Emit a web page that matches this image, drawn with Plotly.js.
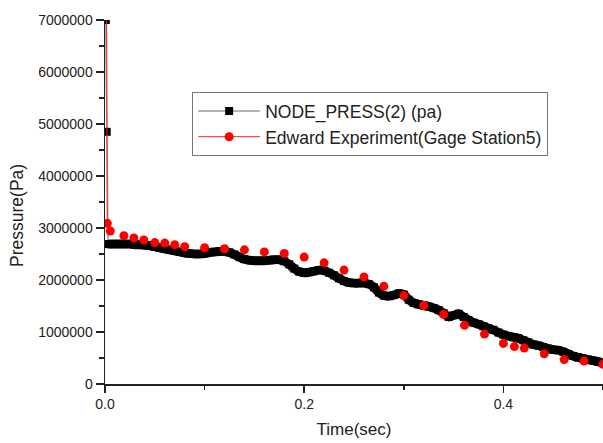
<!DOCTYPE html>
<html>
<head>
<meta charset="utf-8">
<script src="https://cdn.plot.ly/plotly-3.0.1.min.js"></script>
<style>html,body{margin:0;padding:0;background:#fff;}#chart{width:603px;height:443px;}</style>
</head>
<body>
<div id="chart"></div>
<script>
// Simulation: NODE_PRESS(2) (pa)
var simTime = [0.0008, 0.0017, 0.003,
  0.005, 0.010, 0.015, 0.020, 0.025, 0.030, 0.035, 0.040, 0.045, 0.050,
  0.055, 0.060, 0.065, 0.070, 0.075, 0.080, 0.085, 0.090, 0.095, 0.100,
  0.105, 0.110, 0.115, 0.120, 0.125, 0.130, 0.135, 0.140, 0.145, 0.150,
  0.155, 0.160, 0.165, 0.170, 0.175, 0.180, 0.185, 0.190, 0.195, 0.200,
  0.205, 0.210, 0.215, 0.220, 0.225, 0.230, 0.235, 0.240, 0.245, 0.250,
  0.255, 0.260, 0.265, 0.270, 0.275, 0.280, 0.285, 0.290, 0.295, 0.300,
  0.305, 0.310, 0.315, 0.320, 0.325, 0.330, 0.335, 0.340, 0.345, 0.350,
  0.355, 0.360, 0.365, 0.370, 0.375, 0.380, 0.385, 0.390, 0.395, 0.400,
  0.405, 0.410, 0.415, 0.420, 0.425, 0.430, 0.435, 0.440, 0.445, 0.450,
  0.455, 0.460, 0.465, 0.470, 0.475, 0.480, 0.485, 0.490, 0.495, 0.500];
var simPress = [7000000, 4850000, 2690000,
  2690000, 2690000, 2690000, 2690000, 2690000, 2680000, 2680000, 2670000, 2660000, 2640000,
  2620000, 2600000, 2580000, 2560000, 2540000, 2520000, 2510000, 2500000, 2500000, 2510000,
  2530000, 2540000, 2550000, 2550000, 2530000, 2490000, 2440000, 2400000, 2380000, 2370000,
  2370000, 2370000, 2380000, 2390000, 2390000, 2360000, 2300000, 2220000, 2160000, 2140000,
  2150000, 2170000, 2190000, 2180000, 2140000, 2090000, 2030000, 1980000, 1950000, 1940000,
  1940000, 1940000, 1920000, 1860000, 1760000, 1700000, 1690000, 1710000, 1740000, 1720000,
  1620000, 1560000, 1530000, 1510000, 1490000, 1460000, 1420000, 1360000, 1290000, 1320000,
  1350000, 1290000, 1230000, 1180000, 1150000, 1110000, 1070000, 1040000, 990000, 950000,
  920000, 900000, 880000, 840000, 800000, 760000, 740000, 710000, 680000, 660000,
  650000, 620000, 580000, 540000, 510000, 490000, 470000, 450000, 430000, 400000];

// Experiment: Edward Experiment (Gage Station5)
var expTime = [0.0015, 0.0023, 0.0053, 0.019, 0.029, 0.039, 0.050, 0.060, 0.070, 0.080,
  0.100, 0.120, 0.140, 0.160, 0.180, 0.200, 0.220, 0.240, 0.260, 0.280,
  0.300, 0.320, 0.340, 0.361, 0.381, 0.400, 0.411, 0.421, 0.441, 0.461, 0.481, 0.500];
var expPress = [7600000, 3090000, 2940000, 2850000, 2810000, 2770000, 2720000, 2710000, 2680000, 2640000,
  2620000, 2600000, 2580000, 2540000, 2510000, 2440000, 2330000, 2190000, 2060000, 1880000,
  1700000, 1510000, 1340000, 1130000, 960000, 780000, 720000, 690000, 580000, 470000, 440000, 380000];

var simName = 'NODE_PRESS(2) (pa)';
var expName = 'Edward Experiment(Gage Station5)';

// Experiment: line only joins the initial spike; other points stand alone
var ex = [], ey = [];
for (var i = 0; i < expTime.length; i++) {
  ex.push(expTime[i]); ey.push(expPress[i]);
  if (i >= 1) { ex.push(null); ey.push(null); }
}

var traces = [
  { // dense band of the simulation markers (same data, drawn as a thick stroke)
    x: simTime.slice(2), y: simPress.slice(2), type: 'scatter', mode: 'lines',
    line: {color: '#000', width: 9, shape: 'spline', smoothing: 0.6},
    showlegend: false, hoverinfo: 'skip', cliponaxis: true
  },
  {
    x: simTime, y: simPress, name: simName, type: 'scatter', mode: 'lines+markers',
    line: {color: '#9a9a9a', width: 1.5},
    marker: {symbol: 'square', size: 8, color: '#000'},
    cliponaxis: true
  },
  {
    x: ex, y: ey, name: expName, type: 'scatter', mode: 'lines+markers',
    connectgaps: false,
    line: {color: '#ff2020', width: 1},
    marker: {symbol: 'circle', size: 9, color: '#ff0000'},
    cliponaxis: true
  }
];

var fontFam = '"Liberation Sans", Arial, sans-serif';
var layout = {
  width: 603, height: 443,
  margin: {l: 105, r: 0, t: 20, b: 59},
  paper_bgcolor: '#fff', plot_bgcolor: '#fff',
  font: {family: fontFam, color: '#222', size: 14},
  showlegend: true,
  legend: {
    x: 0.175, y: 0.802, xanchor: 'left', yanchor: 'top',
    bordercolor: '#777', borderwidth: 1, bgcolor: '#fff',
    font: {family: fontFam, size: 17.5, color: '#222'},
    itemwidth: 62, tracegroupgap: 0
  },
  xaxis: {
    range: [0, 0.5], tick0: 0, dtick: 0.2, tickformat: '.1f',
    showline: true, linecolor: '#222', linewidth: 1.5,
    ticks: 'outside', ticklen: 7, tickwidth: 1.5, tickcolor: '#222',
    minor: {dtick: 0.1, ticks: 'outside', ticklen: 4, tickwidth: 1.5, tickcolor: '#222', showgrid: false},
    showgrid: false, zeroline: false,
    tickfont: {size: 14},
    title: {text: 'Time(sec)', font: {size: 17}, standoff: 12}
  },
  yaxis: {
    range: [0, 7000000], tick0: 0, dtick: 1000000, tickformat: 'd',
    showline: true, linecolor: '#222', linewidth: 1.5,
    ticks: 'outside', ticklen: 8, tickwidth: 1.5, tickcolor: '#222',
    minor: {dtick: 500000, ticks: 'outside', ticklen: 5, tickwidth: 1.5, tickcolor: '#222', showgrid: false},
    showgrid: false, zeroline: false,
    tickfont: {size: 14}
  },
  annotations: [{
    text: 'Pressure(Pa)', textangle: -90, showarrow: false,
    xref: 'paper', yref: 'paper', x: -0.177, y: 0.464,
    xanchor: 'center', yanchor: 'middle',
    font: {family: fontFam, size: 17.5, color: '#222'}
  }]
};

Plotly.newPlot('chart', traces, layout, {displayModeBar: false, staticPlot: true});
</script>
</body>
</html>
